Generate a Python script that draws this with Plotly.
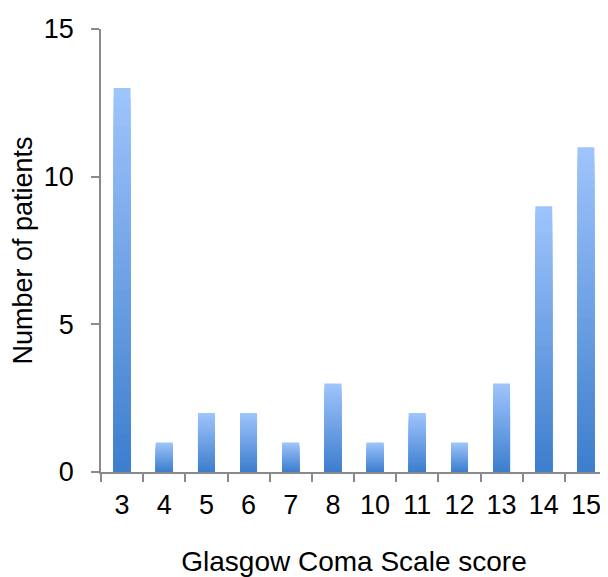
import plotly.graph_objects as go

gcs_scores = ["3", "4", "5", "6", "7", "8", "10", "11", "12", "13", "14", "15"]
patients = [13, 1, 2, 2, 1, 3, 1, 2, 1, 3, 9, 11]

# vertical gradient emulated by overlaid bars of decreasing fraction
top_rgb = (158, 196, 252)
bot_rgb = (62, 126, 206)
N = 40

fig = go.Figure()
for k in range(N):
    frac = (N - k) / N
    t = k / (N - 1)
    c = tuple(round(top_rgb[i] + (bot_rgb[i] - top_rgb[i]) * t) for i in range(3))
    fig.add_trace(go.Bar(
        x=gcs_scores,
        y=[v * frac for v in patients],
        width=0.4,
        marker=dict(color="rgb(%d,%d,%d)" % c, line=dict(width=0)),
        hoverinfo="skip" if k else None,
        showlegend=False,
    ))

family = "Liberation Sans, Arial, sans-serif"
tf = dict(family=family, size=27, color="black")
ttl = dict(family=family, size=28, color="black")
fig.update_layout(
    barmode="overlay",
    width=600, height=569,
    margin=dict(l=93, r=1, t=21, b=105, autoexpand=False),
    paper_bgcolor="white", plot_bgcolor="white",
    font=tf,
    xaxis=dict(
        type="category", automargin=False,
        showline=True, linecolor="#8a8a8a", linewidth=1.5,
        ticks="outside", tickson="boundaries", ticklen=8, tickcolor="#8a8a8a",
        tickwidth=1.5,
        tickfont=tf,
        ticklabelstandoff=8,
        title=dict(text="Glasgow Coma Scale score", standoff=36, font=ttl),
        showgrid=False, zeroline=False,
    ),
    yaxis=dict(
        range=[0, 15], tickvals=[0, 5, 10, 15], automargin=False,
        showline=True, linecolor="#8a8a8a", linewidth=1.5,
        ticks="outside", ticklen=8, tickcolor="#8a8a8a", tickwidth=1.5,
        tickfont=tf,
        ticklabelstandoff=12,
        title=dict(text="Number of patients", standoff=14, font=tf),
        showgrid=False, zeroline=False,
    ),
)

fig.write_html("out.html")
